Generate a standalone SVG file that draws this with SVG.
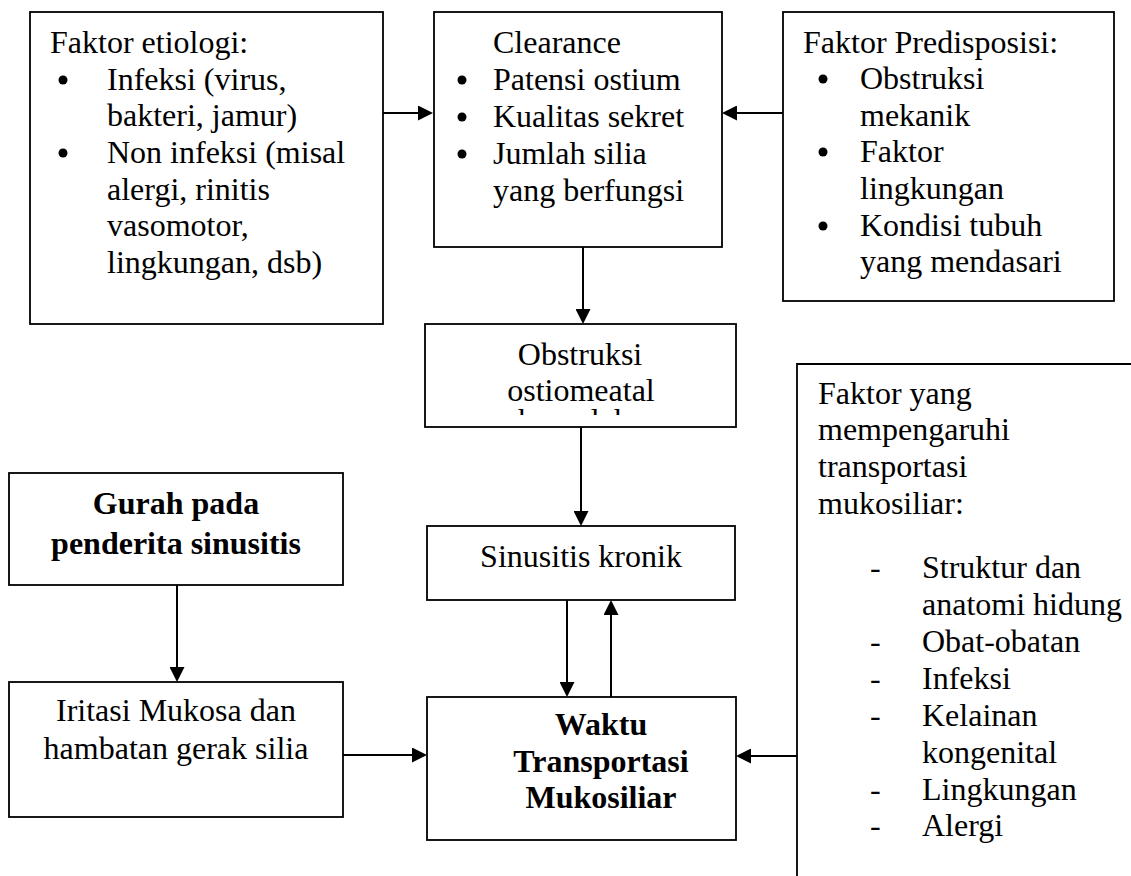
<svg xmlns="http://www.w3.org/2000/svg" width="1131" height="876" viewBox="0 0 1131 876">
<style>
.box{fill:#fff;stroke:#000;stroke-width:1.8}
.t{font-family:"Liberation Serif","Times New Roman",serif;font-size:32px;fill:#000}
.b{font-weight:bold}
.m{text-anchor:middle}
.c{stroke:#000;stroke-width:2;fill:none;marker-end:url(#ah)}
</style>
<defs>
<marker id="ah" markerUnits="userSpaceOnUse" markerWidth="15" markerHeight="15" refX="13" refY="7.5" orient="auto">
<path d="M0,0 L15,7.5 L0,15 z" fill="#000"/>
</marker>
<clipPath id="clipObs"><rect x="426" y="325" width="309" height="90"/></clipPath>
</defs>
<rect width="1131" height="876" fill="#fff"/>

<g id="connectors">
<line class="c" x1="383" y1="113" x2="431" y2="113"/>
<line class="c" x1="783" y1="113" x2="724" y2="113"/>
<line class="c" x1="583" y1="247" x2="583" y2="322"/>
<line class="c" x1="581" y1="427" x2="581" y2="524"/>
<line class="c" x1="567" y1="600" x2="567" y2="695"/>
<line class="c" x1="611" y1="697" x2="611" y2="602"/>
<line class="c" x1="177" y1="585" x2="177" y2="680"/>
<line class="c" x1="343" y1="755" x2="425" y2="755"/>
<line class="c" x1="797" y1="756" x2="738" y2="756"/>
</g>

<g id="faktor-etiologi">
<rect class="box" x="30" y="12" width="353" height="312"/>
<text class="t" x="50" y="53">Faktor etiologi:</text>
<circle cx="63" cy="80" r="4.5"/>
<text class="t" x="107" y="90">Infeksi (virus,</text>
<text class="t" x="107" y="126">bakteri, jamur)</text>
<circle cx="63" cy="153" r="4.5"/>
<text class="t" x="107" y="163">Non infeksi (misal</text>
<text class="t" x="107" y="200">alergi, rinitis</text>
<text class="t" x="107" y="236">vasomotor,</text>
<text class="t" x="107" y="273">lingkungan, dsb)</text>
</g>

<g id="clearance">
<rect class="box" x="434" y="12" width="288" height="235"/>
<text class="t" x="493" y="53">Clearance</text>
<circle cx="462" cy="80" r="4.5"/>
<text class="t" x="493" y="90">Patensi ostium</text>
<circle cx="462" cy="117" r="4.5"/>
<text class="t" x="493" y="127">Kualitas sekret</text>
<circle cx="462" cy="154" r="4.5"/>
<text class="t" x="493" y="164">Jumlah silia</text>
<text class="t" x="493" y="201">yang berfungsi</text>
</g>

<g id="faktor-predisposisi">
<rect class="box" x="783" y="12" width="331" height="289"/>
<text class="t" x="803" y="53">Faktor Predisposisi:</text>
<circle cx="823" cy="79" r="4.5"/>
<text class="t" x="860" y="89">Obstruksi</text>
<text class="t" x="860" y="126">mekanik</text>
<circle cx="823" cy="152" r="4.5"/>
<text class="t" x="860" y="162">Faktor</text>
<text class="t" x="860" y="199">lingkungan</text>
<circle cx="823" cy="226" r="4.5"/>
<text class="t" x="860" y="236">Kondisi tubuh</text>
<text class="t" x="860" y="272">yang mendasari</text>
</g>

<g id="obstruksi">
<rect class="box" x="425" y="324" width="311" height="103"/>
<text class="t m" x="580" y="365">Obstruksi</text>
<text class="t m" x="581" y="401">ostiomeatal</text>
<text class="t m" x="580" y="431" clip-path="url(#clipObs)">kompleks</text>
</g>

<g id="sinusitis-kronik">
<rect class="box" x="427" y="526" width="308" height="74"/>
<text class="t m" x="581" y="567">Sinusitis kronik</text>
</g>

<g id="waktu-transportasi">
<rect class="box" x="427" y="697" width="309" height="143"/>
<text class="t b m" x="601" y="735">Waktu</text>
<text class="t b m" x="601" y="772">Transportasi</text>
<text class="t b m" x="601" y="808">Mukosiliar</text>
</g>

<g id="gurah">
<rect class="box" x="9" y="473" width="334" height="112"/>
<text class="t b m" x="176" y="514">Gurah pada</text>
<text class="t b m" x="176" y="554">penderita sinusitis</text>
</g>

<g id="iritasi">
<rect class="box" x="9" y="682" width="334" height="135"/>
<text class="t m" x="176" y="721">Iritasi Mukosa dan</text>
<text class="t m" x="176" y="759">hambatan gerak silia</text>
</g>

<g id="faktor-transportasi">
<path d="M1131,364 H797 V876" fill="none" stroke="#000" stroke-width="1.8"/>
<text class="t" x="818" y="404">Faktor yang</text>
<text class="t" x="818" y="440">mempengaruhi</text>
<text class="t" x="818" y="477">transportasi</text>
<text class="t" x="818" y="514">mukosiliar:</text>
<text class="t" x="870" y="578">-</text>
<text class="t" x="922" y="578">Struktur dan</text>
<text class="t" x="922" y="615">anatomi hidung</text>
<text class="t" x="870" y="652">-</text>
<text class="t" x="922" y="652">Obat-obatan</text>
<text class="t" x="870" y="689">-</text>
<text class="t" x="922" y="689">Infeksi</text>
<text class="t" x="870" y="726">-</text>
<text class="t" x="922" y="726">Kelainan</text>
<text class="t" x="922" y="763">kongenital</text>
<text class="t" x="870" y="800">-</text>
<text class="t" x="922" y="800">Lingkungan</text>
<text class="t" x="870" y="836">-</text>
<text class="t" x="922" y="836">Alergi</text>
</g>
</svg>
